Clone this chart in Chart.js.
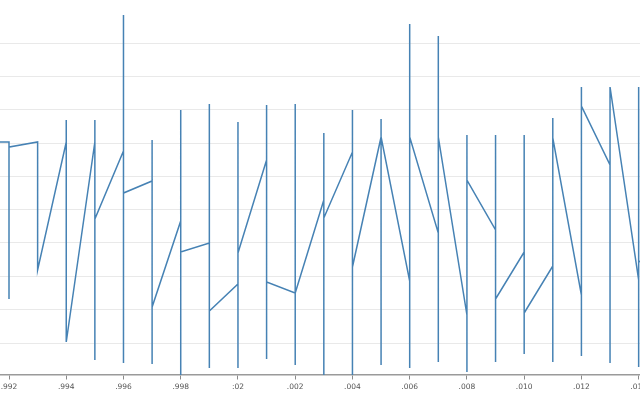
<!DOCTYPE html>
<html>
<head>
<meta charset="utf-8">
<script src="https://cdn.jsdelivr.net/npm/chart.js@4/dist/chart.umd.min.js"></script>
<style>
  html, body { margin: 0; padding: 0; background: #ffffff; }
  #wrap { width: 640px; height: 400px; }
</style>
</head>
<body>
<div id="wrap"><canvas id="c" width="640" height="400"></canvas></div>
<script>
// Time in milliseconds (after 0 s); several samples per millisecond
const msTimes = [
  1991,
  1992, 1992, 1992,
  1993, 1993,
  1994, 1994, 1994,
  1995, 1995, 1995, 1995,
  1996, 1996, 1996, 1996,
  1997, 1997, 1997, 1997,
  1998, 1998, 1998, 1998,
  1999, 1999, 1999, 1999,
  2000, 2000, 2000, 2000,
  2001, 2001, 2001, 2001,
  2002, 2002, 2002, 2002,
  2003, 2003, 2003, 2003,
  2004, 2004, 2004, 2004,
  2005, 2005, 2005, 2005,
  2006, 2006, 2006, 2006,
  2007, 2007, 2007, 2007,
  2008, 2008, 2008, 2008,
  2009, 2009, 2009, 2009,
  2010, 2010, 2010, 2010,
  2011, 2011, 2011, 2011,
  2012, 2012, 2012, 2012,
  2013, 2013, 2013, 2013,
  2014, 2014, 2014, 2014,
  2015
];
const values = [
  70.3,
  70.3, 23.2, 68.8,
  70.3, 31.9,
  70.3, 76.9, 10.3,
  70.3, 76.9, 4.9, 47.2,
  67.6, 108.4, 4.0, 55.0,
  58.6, 70.9, 3.7, 20.8,
  46.6, 79.9, -1.5, 37.3,
  40.0, 81.7, 2.5, 19.6,
  27.7, 76.3, 2.5, 37.0,
  64.9, 81.4, 5.2, 28.3,
  25.0, 81.7, 3.4, 25.0,
  52.9, 73.0, -1.5, 47.5,
  67.3, 79.9, -0.8, 32.8,
  71.8, 77.2, 3.4, 71.8,
  28.6, 105.7, 2.5, 71.8,
  43.0, 102.1, 4.3, 71.8,
  18.4, 72.4, 1.3, 58.9,
  43.9, 72.4, 4.3, 23.2,
  37.3, 72.4, 6.7, 19.0,
  33.1, 77.5, 4.3, 71.5,
  24.4, 86.8, 6.1, 81.1,
  63.4, 86.8, 4.0, 86.8,
  28.9, 86.8, 2.8, 34.6,
  30.4
];
const xTickValues = [1992, 1994, 1996, 1998, 2000, 2002, 2004, 2006, 2008, 2010, 2012, 2014];
const xTickLabels = [".992", ".994", ".996", ".998", ":02", ".002", ".004", ".006", ".008", ".010", ".012", ".014"];
const yGridValues = [10, 20, 30, 40, 50, 60, 70, 80, 90, 100];

const points = msTimes.map((t, i) => ({ x: t, y: values[i] }));

new Chart(document.getElementById('c'), {
  type: 'line',
  data: {
    datasets: [{
      data: points,
      borderColor: '#4682b4',
      borderWidth: 1.5,
      pointRadius: 0,
      pointHoverRadius: 0,
      tension: 0,
      fill: false,
      clip: 0
    }]
  },
  options: {
    responsive: false,
    animation: false,
    devicePixelRatio: 1,
    layout: { padding: { left: 0, right: 0, top: 0, bottom: 5.5 } },
    plugins: { legend: { display: false }, tooltip: { enabled: false } },
    scales: {
      x: {
        type: 'linear',
        min: 1991.6855,
        max: 2014.047,
        afterBuildTicks: (scale) => { scale.ticks = xTickValues.map(v => ({ value: v })); },
        afterFit: (scale) => { scale.paddingLeft = 0; scale.paddingRight = 0; },
        ticks: {
          autoSkip: false,
          maxRotation: 0,
          minRotation: 0,
          padding: 3,
          color: '#555555',
          font: { family: 'DejaVu Sans', size: 7.5, lineHeight: 1.2 },
          callback: function (value, index) { return xTickLabels[index]; }
        },
        grid: {
          display: true,
          drawOnChartArea: false,
          drawTicks: true,
          tickLength: 4.5,
          color: '#8a8a8a',
          lineWidth: 1
        },
        border: { display: true, color: '#9a9a9a', width: 1.5 }
      },
      y: {
        type: 'linear',
        min: 0.4,
        max: 112.9,
        afterBuildTicks: (scale) => { scale.ticks = yGridValues.map(v => ({ value: v })); },
        afterFit: (scale) => { scale.paddingTop = 0; scale.paddingBottom = 0; },
        ticks: { display: false },
        grid: { display: true, drawTicks: false, color: '#e9e9e9', lineWidth: 1 },
        border: { display: false }
      }
    }
  }
});
</script>
</body>
</html>
